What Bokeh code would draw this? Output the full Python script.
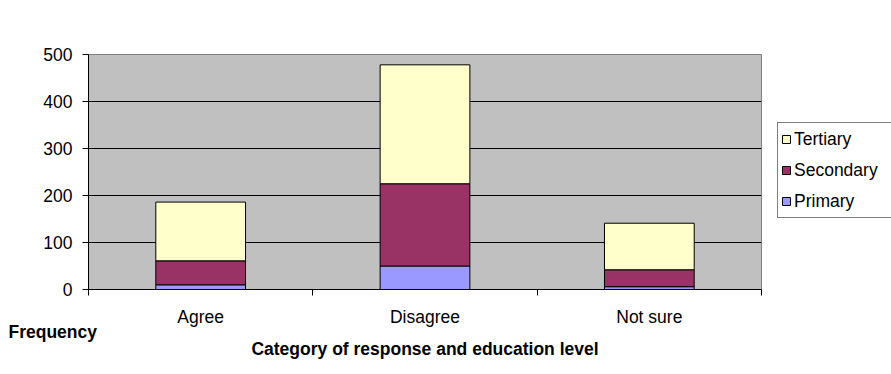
from bokeh.plotting import figure
from bokeh.models import (ColumnDataSource, FixedTicker, Legend, LegendItem,
                          Title, Range1d)
from bokeh.embed import file_html
from bokeh.resources import INLINE

# ---- data ----
categories = ["Agree", "Disagree", "Not sure"]
levels = ["Primary", "Secondary", "Tertiary"]
primary = [10, 50, 6]
secondary = [51, 175, 36]
tertiary = [125, 253, 99]
y_ticks = [0, 100, 200, 300, 400, 500]

colors = ["#9999FF", "#993366", "#FFFFCC"]
FONT = "Liberation Sans"
FS = "17.5px"

xpos = [i + 0.5 for i in range(len(categories))]
bounds = list(range(len(categories) + 1))
source = ColumnDataSource(dict(x=xpos, Primary=primary,
                               Secondary=secondary, Tertiary=tertiary))

p = figure(frame_width=673, frame_height=235,
           x_range=Range1d(0, len(categories)), y_range=Range1d(0, 500),
           output_backend="svg", toolbar_location=None,
           min_border_left=88, min_border_right=159,
           min_border_top=54, min_border_bottom=85)

p.background_fill_color = "#C0C0C0"
p.border_fill_color = "white"
p.outline_line_color = "#808080"

renderers = p.vbar_stack(levels, x="x", width=0.4, color=colors,
                         line_color="black", line_width=1, source=source)

# grid
p.xgrid.visible = False
p.ygrid.ticker = FixedTicker(ticks=y_ticks)
p.ygrid.grid_line_color = "black"
p.ygrid.grid_line_width = 1

# y axis
p.yaxis.ticker = FixedTicker(ticks=y_ticks)
p.yaxis.major_tick_out = 6
p.yaxis.major_tick_in = 0
p.yaxis.minor_tick_out = 0
p.yaxis.minor_tick_in = 0
p.yaxis.axis_line_color = "black"
p.yaxis.major_label_text_font = FONT
p.yaxis.major_label_text_font_size = FS
p.yaxis.major_label_text_color = "black"
p.yaxis.major_label_standoff = 10

# x axis
p.xaxis.ticker = FixedTicker(ticks=xpos, minor_ticks=bounds)
p.xaxis.major_label_overrides = {x: c for x, c in zip(xpos, categories)}
p.xaxis.major_tick_out = 0
p.xaxis.major_tick_in = 0
p.xaxis.minor_tick_out = 6
p.xaxis.minor_tick_in = 0
p.xaxis.axis_line_color = "black"
p.xaxis.major_label_text_font = FONT
p.xaxis.major_label_text_font_size = FS
p.xaxis.major_label_text_color = "black"
p.xaxis.major_label_standoff = 11

# "Frequency" (bottom-left) and x axis title as stacked titles below
p.add_layout(Title(text="Frequency", align="left", offset=-80, standoff=-20,
                   text_font=FONT, text_font_size=FS, text_font_style="bold",
                   text_color="black"), "below")
p.add_layout(Title(text="Category of response and education level",
                   align="center", standoff=10,
                   text_font=FONT, text_font_size=FS, text_font_style="bold",
                   text_color="black"), "below")

# legend
items = [LegendItem(label=lab, renderers=[r])
         for lab, r in reversed(list(zip(levels, renderers)))]
legend = Legend(items=items, location=(16, 71))
legend.border_line_color = "black"
legend.border_line_width = 1
legend.background_fill_color = "white"
legend.background_fill_alpha = 1
legend.label_text_font = FONT
legend.label_text_font_size = FS
legend.label_text_color = "black"
legend.glyph_width = 10
legend.glyph_height = 10
legend.label_standoff = 3
legend.label_height = 26
legend.label_width = 110
legend.padding = 3
legend.spacing = 5
legend.margin = 0
p.add_layout(legend, "right")

html = file_html(p, INLINE)
html = html.replace("</head>", "<style>html,body{overflow:hidden}</style></head>", 1)
open("out.html", "w").write(html)
